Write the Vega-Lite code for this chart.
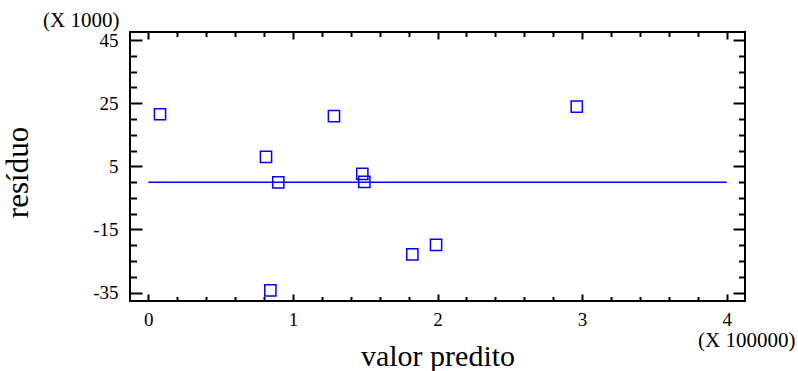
{
  "$schema": "https://vega.github.io/schema/vega-lite/v6.json",
  "width": 615,
  "height": 269,
  "autosize": {"type": "none"},
  "padding": {"left": 130, "top": 32, "right": 53, "bottom": 70},
  "background": "white",
  "config": {
    "font": "Liberation Serif",
    "view": {"stroke": "black", "strokeWidth": 2},
    "axis": {
      "grid": false,
      "domain": false,
      "tickColor": "black",
      "tickWidth": 2,
      "labelFont": "Liberation Serif",
      "labelFontSize": 19,
      "labelColor": "black",
      "titleFont": "Liberation Serif",
      "titleColor": "black",
      "titleFontWeight": "normal",
      "labelFlush": false,
      "labelOverlap": false
    }
  },
  "datasets": {
    "pts": [
      {"predito": 8100, "residuo": 21500},
      {"predito": 128400, "residuo": 20900},
      {"predito": 81400, "residuo": 8000},
      {"predito": 89900, "residuo": -100},
      {"predito": 148000, "residuo": 2600},
      {"predito": 149400, "residuo": 100},
      {"predito": 182600, "residuo": -22900},
      {"predito": 199000, "residuo": -19850},
      {"predito": 296300, "residuo": 23900},
      {"predito": 84400, "residuo": -34300}
    ],
    "fit": [
      {"predito": 0, "residuo": 0},
      {"predito": 400000, "residuo": 0}
    ]
  },
  "layer": [
    {
      "data": {"name": "fit"},
      "mark": {"type": "line", "color": "#0000ff", "strokeWidth": 1.5},
      "encoding": {
        "x": {"field": "predito", "type": "quantitative",
          "scale": {"domain": [-12650, 412650], "nice": false, "zero": false},
          "axis": {"orient": "bottom", "labels": false, "tickSize": -4.5,
            "values": [20000, 40000, 60000, 80000, 120000, 140000, 160000, 180000, 220000, 240000, 260000, 280000, 320000, 340000, 360000, 380000],
            "title": "(X 100000)", "titleFont": "Liberation Serif", "titleFontSize": 21, "titleX": 665, "titleY": 45, "titleAlign": "right", "titleBaseline": "alphabetic", "titleAngle": 0}},
        "y": {"field": "residuo", "type": "quantitative",
          "scale": {"domain": [-37650, 47550], "nice": false, "zero": false},
          "axis": {"orient": "left", "labels": false, "tickSize": -6.5,
            "values": [-30000, -25000, -20000, -10000, -5000, 0, 10000, 15000, 20000, 30000, 35000, 40000],
            "title": "(X 1000)", "titleFont": "Liberation Serif", "titleFontSize": 21, "titleX": -11, "titleY": -6, "titleAlign": "right", "titleBaseline": "alphabetic", "titleAngle": 0}}
      }
    },
    {
      "data": {"name": "pts"},
      "mark": {"type": "point", "shape": "square", "size": 125, "strokeWidth": 1.5, "color": "#0000ff", "filled": false, "opacity": 1},
      "encoding": {
        "x": {"field": "predito", "type": "quantitative",
          "scale": {"domain": [-12650, 412650], "nice": false, "zero": false},
          "axis": {"orient": "bottom", "values": [0, 100000, 200000, 300000, 400000], "tickSize": -7,
            "labelExpr": "datum.value/100000", "labelPadding": 16,
            "labelFont": "Liberation Serif", "labelFontSize": 19,
            "title": "valor predito", "titleFont": "Liberation Serif", "titleFontSize": 30, "titleX": 307.5, "titleY": 64, "titleBaseline": "alphabetic"}},
        "y": {"field": "residuo", "type": "quantitative",
          "scale": {"domain": [-37650, 47550], "nice": false, "zero": false},
          "axis": {"orient": "left", "values": [-35000, -15000, 5000, 25000, 45000], "tickSize": -12,
            "labelExpr": "datum.value/1000", "labelPadding": 24,
            "labelFont": "Liberation Serif", "labelFontSize": 19,
            "title": "resíduo", "titleFont": "Liberation Serif", "titleFontSize": 31, "titleX": -96, "titleY": 140}}
      }
    },
    {
      "data": {"name": "fit"},
      "mark": {"type": "point", "opacity": 0},
      "encoding": {
        "x": {"field": "predito", "type": "quantitative",
          "scale": {"domain": [-12650, 412650], "nice": false, "zero": false},
          "axis": {"orient": "top", "labels": false, "title": null, "tickSize": -7,
            "values": [0, 100000, 200000, 300000, 400000]}},
        "y": {"field": "residuo", "type": "quantitative",
          "scale": {"domain": [-37650, 47550], "nice": false, "zero": false},
          "axis": {"orient": "right", "labels": false, "title": null, "tickSize": -12,
            "values": [-35000, -15000, 5000, 25000, 45000]}}
      }
    },
    {
      "data": {"name": "fit"},
      "mark": {"type": "point", "opacity": 0},
      "encoding": {
        "x": {"field": "predito", "type": "quantitative",
          "scale": {"domain": [-12650, 412650], "nice": false, "zero": false},
          "axis": {"orient": "top", "labels": false, "title": null, "tickSize": -4.5,
            "values": [20000, 40000, 60000, 80000, 120000, 140000, 160000, 180000, 220000, 240000, 260000, 280000, 320000, 340000, 360000, 380000]}},
        "y": {"field": "residuo", "type": "quantitative",
          "scale": {"domain": [-37650, 47550], "nice": false, "zero": false},
          "axis": {"orient": "right", "labels": false, "title": null, "tickSize": -6.5,
            "values": [-30000, -25000, -20000, -10000, -5000, 0, 10000, 15000, 20000, 30000, 35000, 40000]}}
      }
    }
  ],
  "resolve": {"axis": {"x": "independent", "y": "independent"}}
}
